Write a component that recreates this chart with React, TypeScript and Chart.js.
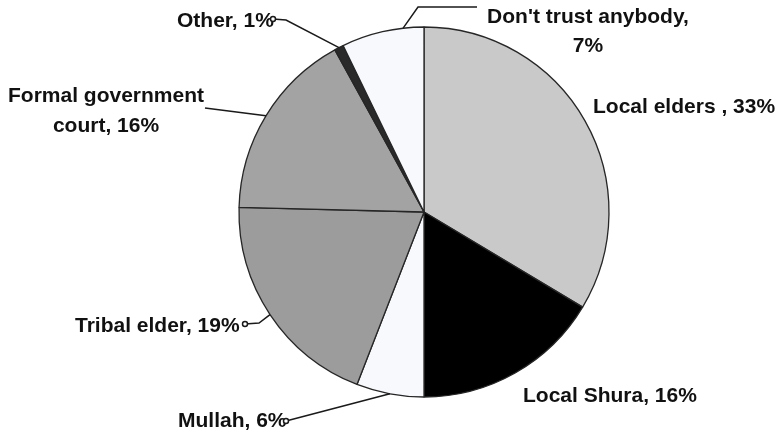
import React, { useEffect, useRef } from "react";
import { Chart, registerables } from "chart.js";

Chart.register(...registerables);

const categories = [
  "Local elders",
  "Local Shura",
  "Mullah",
  "Tribal elder",
  "Formal government court",
  "Other",
  "Don't trust anybody",
];
const shares = [33.6, 16.4, 5.9, 19.5, 16.6, 0.8, 7.2];
const shareLabels = ["33%", "16%", "6%", "19%", "16%", "1%", "7%"];
const sliceColors = ["#c9c9c9", "#000000", "#f8f9fc", "#9c9c9c", "#a3a3a3", "#2a2a2a", "#f8f9fc"];

type LabelLayout = {
  lines: string[];
  align: CanvasTextAlign;
  x: number;
  ys: number[];
  path?: [number, number][];
  dot?: boolean;
  frac?: number;
};

const labelLayouts: LabelLayout[] = [
  { lines: [`${categories[0]} , ${shareLabels[0]}`], align: "left", x: 593, ys: [113] },
  { lines: [`${categories[1]}, ${shareLabels[1]}`], align: "left", x: 523, ys: [402] },
  {
    lines: [`${categories[2]}, ${shareLabels[2]}`],
    align: "left", x: 178, ys: [427],
    path: [[286, 421]], dot: true, frac: 0.5,
  },
  {
    lines: [`${categories[3]}, ${shareLabels[3]}`],
    align: "left", x: 75, ys: [332],
    path: [[245, 324], [259, 323]], dot: true, frac: 0.5,
  },
  {
    lines: ["Formal government", `court, ${shareLabels[4]}`],
    align: "center", x: 106, ys: [102, 132],
    path: [[205, 108]], frac: 0.5,
  },
  {
    lines: [`${categories[5]}, ${shareLabels[5]}`],
    align: "left", x: 177, ys: [27],
    path: [[273, 19], [286, 20]], dot: true, frac: 0.5,
  },
  {
    lines: [`${categories[6]},`, shareLabels[6]],
    align: "center", x: 588, ys: [23, 52],
    path: [[477, 7], [418, 7]], frac: 0.75,
  },
];

const labelPlugin = {
  id: "pieLabels",
  afterDraw(chart: any) {
    const ctx = chart.ctx as CanvasRenderingContext2D;
    const meta = chart.getDatasetMeta(0);
    ctx.save();
    ctx.font = "bold 21px 'Liberation Sans', Arial, sans-serif";
    ctx.fillStyle = "#111111";
    ctx.textBaseline = "alphabetic";
    labelLayouts.forEach((lay, i) => {
      ctx.textAlign = lay.align;
      lay.lines.forEach((t, j) => ctx.fillText(t, lay.x, lay.ys[j]));
      if (lay.path) {
        const arc = meta.data[i] as any;
        const p = arc.getProps(["x", "y", "startAngle", "endAngle", "outerRadius"], true);
        const a = p.startAngle + (lay.frac ?? 0.5) * (p.endAngle - p.startAngle);
        const ax = p.x + Math.cos(a) * p.outerRadius;
        const ay = p.y + Math.sin(a) * p.outerRadius;
        ctx.strokeStyle = "#1a1a1a";
        ctx.lineWidth = 1.5;
        ctx.beginPath();
        ctx.moveTo(lay.path[0][0], lay.path[0][1]);
        for (let k = 1; k < lay.path.length; k++) ctx.lineTo(lay.path[k][0], lay.path[k][1]);
        ctx.lineTo(ax, ay);
        ctx.stroke();
        if (lay.dot) {
          ctx.beginPath();
          ctx.arc(lay.path[0][0], lay.path[0][1], 2.5, 0, Math.PI * 2);
          ctx.fillStyle = "#ffffff";
          ctx.fill();
          ctx.stroke();
          ctx.fillStyle = "#111111";
        }
      }
    });
    ctx.restore();
  },
};

export default function App() {
  const ref = useRef<HTMLCanvasElement | null>(null);
  useEffect(() => {
    if (!ref.current) return;
    const chart = new Chart(ref.current, {
      type: "pie",
      data: {
        labels: categories,
        datasets: [
          {
            data: shares,
            backgroundColor: sliceColors,
            borderColor: "#262626",
            borderWidth: 1.3,
          },
        ],
      },
      options: {
        animation: false,
        responsive: false,
        radius: 185,
        layout: { padding: { left: 239, right: 171, top: 27, bottom: 36 } },
        plugins: { legend: { display: false }, tooltip: { enabled: false } },
      } as any,
      plugins: [labelPlugin],
    });
    return () => chart.destroy();
  }, []);
  return (
    <div style={{ position: "fixed", left: 0, top: 0, width: 780, height: 433, background: "#ffffff" }}>
      <canvas ref={ref} width={780} height={433} style={{ width: 780, height: 433 }} />
    </div>
  );
}
